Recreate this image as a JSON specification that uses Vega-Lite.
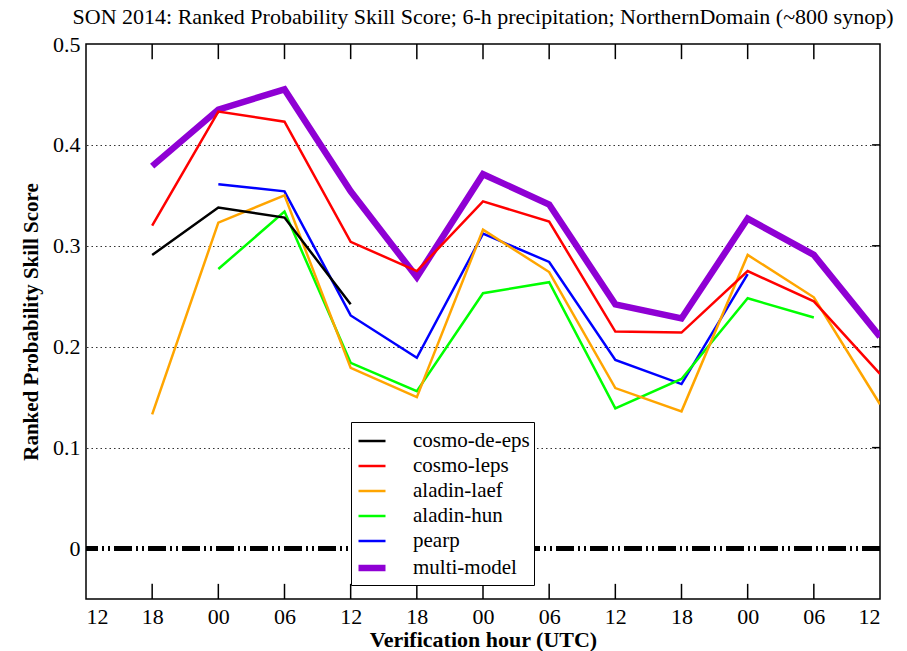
{
  "$schema": "https://vega.github.io/schema/vega-lite/v6.json",
  "width": 794,
  "height": 555,
  "autosize": "none",
  "padding": {"left": 86, "top": 44, "right": 27, "bottom": 52},
  "background": "white",
  "title": {"text": "SON 2014: Ranked Probability Skill Score; 6-h precipitation; NorthernDomain (~800 synop)", "font": "Liberation Serif", "fontSize": 22, "fontWeight": "normal", "color": "black", "offset": 4},
  "config": {
    "view": {"stroke": "black", "strokeWidth": 1.5},
    "axis": {"labelFont": "Liberation Serif", "titleFont": "Liberation Serif", "labelColor": "black", "titleColor": "black", "tickColor": "black", "labelFontSize": 22, "titleFontSize": 22, "titleFontWeight": "bold", "domain": false, "ticks": false}
  },
  "datasets": {
    "series": [
      {"s": "multi-model", "i": 1, "v": 0.379},
      {"s": "multi-model", "i": 2, "v": 0.435},
      {"s": "multi-model", "i": 3, "v": 0.455},
      {"s": "multi-model", "i": 4, "v": 0.354},
      {"s": "multi-model", "i": 5, "v": 0.269},
      {"s": "multi-model", "i": 6, "v": 0.371},
      {"s": "multi-model", "i": 7, "v": 0.341},
      {"s": "multi-model", "i": 8, "v": 0.242},
      {"s": "multi-model", "i": 9, "v": 0.228},
      {"s": "multi-model", "i": 10, "v": 0.327},
      {"s": "multi-model", "i": 11, "v": 0.291},
      {"s": "multi-model", "i": 12, "v": 0.210},
      {"s": "pearp", "i": 2, "v": 0.361},
      {"s": "pearp", "i": 3, "v": 0.354},
      {"s": "pearp", "i": 4, "v": 0.231},
      {"s": "pearp", "i": 5, "v": 0.189},
      {"s": "pearp", "i": 6, "v": 0.312},
      {"s": "pearp", "i": 7, "v": 0.284},
      {"s": "pearp", "i": 8, "v": 0.187},
      {"s": "pearp", "i": 9, "v": 0.163},
      {"s": "pearp", "i": 10, "v": 0.272},
      {"s": "aladin-hun", "i": 2, "v": 0.277},
      {"s": "aladin-hun", "i": 3, "v": 0.334},
      {"s": "aladin-hun", "i": 4, "v": 0.184},
      {"s": "aladin-hun", "i": 5, "v": 0.156},
      {"s": "aladin-hun", "i": 6, "v": 0.253},
      {"s": "aladin-hun", "i": 7, "v": 0.264},
      {"s": "aladin-hun", "i": 8, "v": 0.139},
      {"s": "aladin-hun", "i": 9, "v": 0.168},
      {"s": "aladin-hun", "i": 10, "v": 0.248},
      {"s": "aladin-hun", "i": 11, "v": 0.229},
      {"s": "aladin-laef", "i": 1, "v": 0.133},
      {"s": "aladin-laef", "i": 2, "v": 0.323},
      {"s": "aladin-laef", "i": 3, "v": 0.350},
      {"s": "aladin-laef", "i": 4, "v": 0.179},
      {"s": "aladin-laef", "i": 5, "v": 0.150},
      {"s": "aladin-laef", "i": 6, "v": 0.316},
      {"s": "aladin-laef", "i": 7, "v": 0.274},
      {"s": "aladin-laef", "i": 8, "v": 0.159},
      {"s": "aladin-laef", "i": 9, "v": 0.136},
      {"s": "aladin-laef", "i": 10, "v": 0.291},
      {"s": "aladin-laef", "i": 11, "v": 0.249},
      {"s": "aladin-laef", "i": 12, "v": 0.143},
      {"s": "cosmo-leps", "i": 1, "v": 0.320},
      {"s": "cosmo-leps", "i": 2, "v": 0.433},
      {"s": "cosmo-leps", "i": 3, "v": 0.423},
      {"s": "cosmo-leps", "i": 4, "v": 0.304},
      {"s": "cosmo-leps", "i": 5, "v": 0.275},
      {"s": "cosmo-leps", "i": 6, "v": 0.344},
      {"s": "cosmo-leps", "i": 7, "v": 0.324},
      {"s": "cosmo-leps", "i": 8, "v": 0.215},
      {"s": "cosmo-leps", "i": 9, "v": 0.214},
      {"s": "cosmo-leps", "i": 10, "v": 0.275},
      {"s": "cosmo-leps", "i": 11, "v": 0.245},
      {"s": "cosmo-leps", "i": 12, "v": 0.173},
      {"s": "cosmo-de-eps", "i": 1, "v": 0.291},
      {"s": "cosmo-de-eps", "i": 2, "v": 0.338},
      {"s": "cosmo-de-eps", "i": 3, "v": 0.328},
      {"s": "cosmo-de-eps", "i": 4, "v": 0.242}
    ],
    "xticks": [{"i": 1}, {"i": 2}, {"i": 3}, {"i": 4}, {"i": 5}, {"i": 6}, {"i": 7}, {"i": 8}, {"i": 9}, {"i": 10}, {"i": 11}],
    "yticks": [{"v": 0.1}, {"v": 0.2}, {"v": 0.3}, {"v": 0.4}]
  },
  "data": {"name": "series"},
  "layer": [
    {
      "mark": {"type": "point", "opacity": 0},
      "encoding": {
        "x": {"field": "i", "type": "quantitative", "axis": null},
        "y": {"field": "v", "type": "quantitative", "axis": {"orient": "right", "values": [0.1, 0.2, 0.3, 0.4], "labels": false, "grid": true, "gridColor": "#333333", "gridDash": [1.5, 3], "gridWidth": 1.2, "gridOpacity": 1, "title": null}}
      }
    },
    {
      "data": {"name": "xticks"},
      "mark": {"type": "rule", "color": "black", "strokeWidth": 1.5},
      "encoding": {"x": {"field": "i", "type": "quantitative", "axis": null}, "y": {"datum": -0.05, "type": "quantitative", "axis": null}, "y2": {"datum": -0.035}}
    },
    {
      "data": {"name": "xticks"},
      "mark": {"type": "rule", "color": "black", "strokeWidth": 1.5},
      "encoding": {"x": {"field": "i", "type": "quantitative", "axis": null}, "y": {"datum": 0.5, "type": "quantitative", "axis": null}, "y2": {"datum": 0.485}}
    },
    {
      "data": {"name": "yticks"},
      "mark": {"type": "rule", "color": "black", "strokeWidth": 1.5},
      "encoding": {"x": {"datum": 12, "type": "quantitative", "axis": null}, "x2": {"datum": 11.88}, "y": {"field": "v", "type": "quantitative", "axis": null}}
    },
    {
      "mark": {"type": "rule", "stroke": "black", "strokeWidth": 4, "strokeDash": [18, 4, 2, 4, 2, 4]},
      "encoding": {"y": {"datum": 0, "type": "quantitative", "axis": null}}
    },
    {
      "mark": {"type": "line", "strokeJoin": "miter", "clip": true},
      "encoding": {
        "x": {"field": "i", "type": "quantitative", "scale": {"domain": [0, 12], "nice": false, "zero": false},
          "axis": {"orient": "bottom", "values": [0,1,2,3,4,5,6,7,8,9,10,11,12], "labelExpr": "['12','18','00','06'][datum.value % 4]", "labelPadding": 7, "grid": false, "title": "Verification hour (UTC)", "titlePadding": 2}},
        "y": {"field": "v", "type": "quantitative", "scale": {"domain": [-0.05, 0.5], "nice": false, "zero": false},
          "axis": {"orient": "left", "values": [0, 0.1, 0.2, 0.3, 0.4, 0.5], "labelExpr": "datum.value == 0 ? '0' : format(datum.value, '.1f')", "labelPadding": 6, "grid": false, "title": "Ranked Probability Skill Score", "titleFontSize": 21, "titlePadding": 11}},
        "color": {"field": "s", "type": "nominal",
          "scale": {"domain": ["cosmo-de-eps", "cosmo-leps", "aladin-laef", "aladin-hun", "pearp", "multi-model"], "range": ["#000000", "#ff0000", "#ffa500", "#00ff00", "#0000ff", "#8f00d4"]},
          "legend": {"title": null, "orient": "none", "legendX": 265, "legendY": 378, "fillColor": "white", "strokeColor": "black", "padding": 4, "labelFont": "Liberation Serif", "labelFontSize": 21, "labelColor": "black", "symbolType": "stroke", "symbolSize": 729, "labelOffset": 24, "rowPadding": 0}},
        "strokeWidth": {"field": "s", "type": "nominal",
          "scale": {"type": "ordinal", "domain": ["cosmo-de-eps", "cosmo-leps", "aladin-laef", "aladin-hun", "pearp", "multi-model"], "range": [2.5, 2.5, 2.5, 2.5, 2.5, 6.5]},
          "legend": {"title": null}}
      }
    }
  ],
  "resolve": {"axis": {"x": "independent", "y": "independent"}}
}
